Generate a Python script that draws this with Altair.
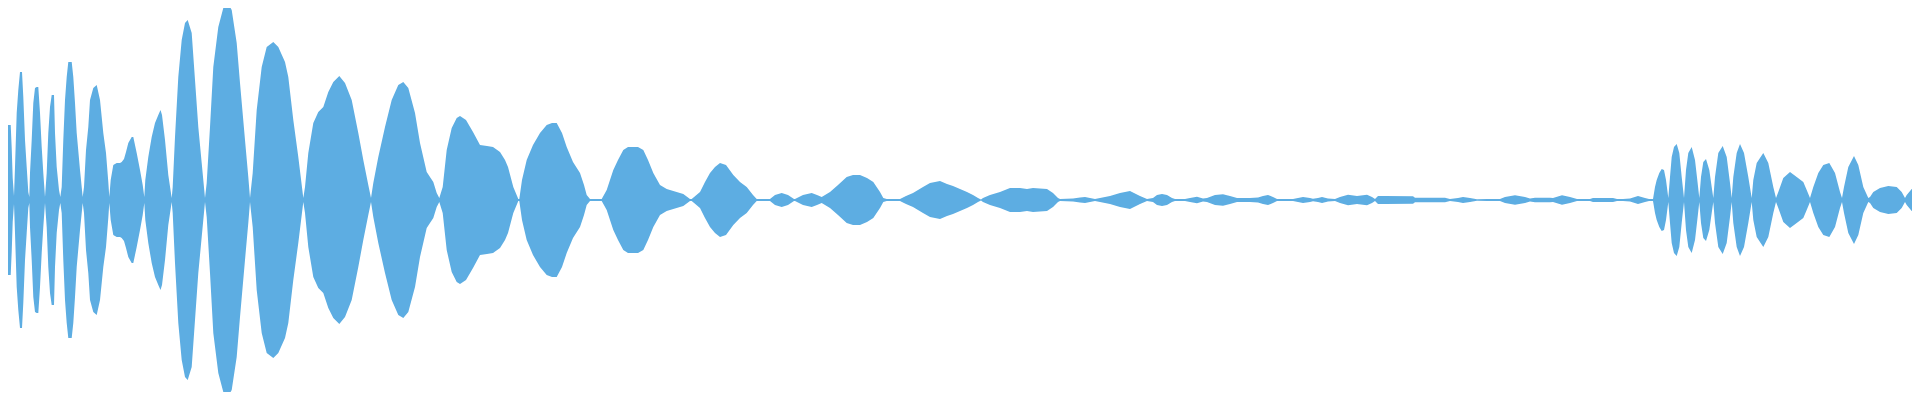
import altair as alt
import pandas as pd

# Waveform envelope: (time position, half amplitude)
burst_1 = [
    (0, 17), (2, 11), (3, 10), (4, 25), (5, 43), (6, 60), (7.3, 75), (10.7, 75), (11.7, 52), (12.7, 22), (14, 4),
    (15, 33), (16.7, 87), (18.3, 110), (20, 128), (22, 128), (23.3, 103), (25, 60), (26.7, 33), (28.3, 8), (29.3, 3),
    (30, 27), (31.7, 60), (33.3, 97), (35, 112), (36.7, 113), (38.3, 113), (40, 87), (41.7, 53), (43.3, 27), (45, 3),
    (46.7, 27), (48.3, 67), (50, 93), (51.7, 105), (54, 105), (55, 67), (56.7, 33), (59, 10), (60.3, 3),
    (61.7, 13), (63.3, 60), (65, 100), (66.7, 123), (68.3, 138), (71.7, 138), (73.3, 123), (75, 97), (76.7, 67), (80, 30), (82.7, 3),
    (84, 13), (86, 50), (88.3, 73), (90, 100), (93.3, 112), (96.7, 115), (100, 100), (103.3, 67), (106, 47), (108.3, 18), (109.3, 3),
    (110.7, 20), (113.3, 35), (116.7, 37), (120, 37), (121.7, 38), (124, 41), (126, 48), (128.3, 57), (131.7, 63), (133.3, 63),
    (136.7, 47), (140, 30), (142.7, 15), (144.3, 3),
    (145.3, 20), (148.3, 43), (151.7, 63), (155, 77), (158.3, 85), (160.5, 90), (162, 85), (165, 60), (168.3, 25), (171.7, 2),
]

burst_2 = [
    (172.7, 13), (175, 63), (178.3, 123), (181.7, 160), (185, 177), (187.7, 180), (191.7, 167), (195, 120), (198.3, 73), (201.7, 37), (205, 2),
    (206.7, 17), (210, 73), (213.3, 133), (218.3, 173), (223.3, 192), (228.3, 196), (231.7, 190), (236.7, 157), (240, 117), (245, 60), (248.3, 23), (250, 2),
    (252.7, 27), (256.7, 90), (261.7, 133), (266.7, 153), (273.3, 158), (278.3, 153), (285, 138), (288.3, 123), (293.3, 80), (298.3, 43), (303.3, 2),
    (305, 13), (308.3, 47), (313.3, 77), (318.3, 88), (323.3, 93), (328.3, 108), (333.3, 118), (339.3, 124), (345, 117), (351.7, 100),
    (358.3, 67), (363.3, 40), (368.3, 15), (371, 2),
    (373.3, 17), (378.3, 43), (385, 73), (391.7, 100), (398.3, 115), (403.3, 118), (408.3, 112), (415, 87), (420, 57), (426.7, 28),
    (433.3, 18), (436.7, 7), (439.3, 2),
    (442.7, 13), (446.7, 50), (451.7, 72), (456.7, 82), (460, 84), (466, 80), (473, 68), (480, 55), (487, 54), (493, 53),
    (500, 48), (505, 40), (508, 33), (513.3, 13), (518.3, 1),
]

decay = [
    (519.3, 1), (522, 20), (526.7, 40), (533, 55), (540, 67), (546.7, 75), (552, 77), (556.7, 77), (562, 67), (566.7, 53),
    (573, 38), (580, 27), (584, 15), (586.7, 5), (590, 1), (600, 1),
    (601.7, 1), (606.7, 10), (613.3, 30), (618, 40), (623.3, 50), (628, 53), (633.3, 53), (638, 53), (643.3, 50), (648, 40),
    (653.3, 27), (660, 15), (666.7, 11), (673.3, 9), (683.3, 6), (690, 1),
    (691.7, 1), (700, 8), (705, 18), (710, 27), (715, 33), (720, 37), (726, 35), (733.3, 25), (740, 18), (746.7, 13), (753, 5), (756.7, 1),
    (770, 1), (775, 5), (781.7, 7), (788, 5), (794, 1),
    (795, 1), (803, 5), (811.7, 7), (817, 5), (821.7, 3), (830, 8), (838, 15), (846.7, 23), (853, 25), (860, 25), (867, 22),
    (873.3, 18), (880, 8), (883.3, 2), (886.7, 1), (900, 1),
    (906, 4), (913, 7), (923, 13), (930, 17), (940, 19), (947, 16), (953, 14), (960, 11), (967, 8), (973, 5), (978, 2), (981, 0.5),
]

quiet = [
    (983, 2), (990, 5), (1000, 8), (1010, 12), (1020, 12), (1027, 11), (1033, 12), (1047, 11), (1053, 7), (1058, 2),
    (1060, 1), (1073, 1.5), (1080, 2.5), (1085, 3), (1090, 2), (1095, 1), (1100, 2), (1110, 4), (1120, 7), (1130, 9),
    (1140, 4), (1147, 1), (1153, 2), (1157, 5), (1162, 6), (1167, 5), (1172, 2), (1175, 1), (1185, 1), (1190, 2),
    (1197, 3.3), (1203, 1.5), (1207, 2), (1215, 5), (1223, 5.7), (1230, 4), (1237, 2), (1250, 2), (1258, 2.5), (1263, 4),
    (1268, 5), (1273, 3), (1277, 1), (1293, 1), (1298, 2), (1303, 3), (1310, 2), (1313, 1.3), (1318, 2), (1322, 3),
    (1328, 1.5), (1335, 1), (1340, 3), (1348, 5.3), (1357, 4), (1367, 5.3), (1372, 3), (1375, 1), (1378, 4), (1385, 4),
    (1413, 3.7), (1415, 2.3), (1445, 2.3), (1450, 1), (1458, 2), (1463, 3), (1470, 2), (1477, 0.8), (1487, 1), (1500, 1),
    (1505, 3), (1515, 4.7), (1525, 3), (1530, 1.5), (1535, 2.3), (1550, 2.3), (1553, 2), (1562, 4.7), (1570, 3), (1577, 1),
    (1590, 1), (1593, 2), (1613, 2), (1617, 1), (1623, 1), (1630, 1.5), (1638, 4), (1645, 2), (1649, 1), (1653, 1),
]

burst_3 = [
    (1655, 13), (1656.7, 20), (1659.3, 27), (1661.7, 31), (1664, 30), (1666, 20), (1668.3, 2),
    (1670, 23), (1671.7, 43), (1674, 53), (1676.7, 56), (1679.3, 47), (1681.7, 23), (1684, 2),
    (1686, 30), (1688.3, 47), (1691.7, 53), (1695, 40), (1697.3, 20), (1699.3, 2),
    (1701, 23), (1703.3, 38), (1706, 41), (1709.3, 30), (1711.7, 13), (1713.3, 2),
    (1715, 23), (1718.3, 47), (1722.7, 54), (1726.7, 43), (1730, 17), (1731.7, 2),
    (1733.3, 23), (1736.7, 47), (1740, 56), (1744, 47), (1748.3, 23), (1751.7, 2),
    (1753.3, 20), (1756.7, 37), (1763.3, 47), (1768.3, 37), (1773.3, 13), (1776, 2),
    (1778.3, 8), (1783.3, 22), (1790, 28), (1796.7, 23), (1803.3, 18), (1806.7, 10), (1810, 2),
    (1813.3, 13), (1818.3, 27), (1823.3, 35), (1829.3, 37), (1835, 27), (1840, 8), (1842, 2),
    (1844, 13), (1848.3, 33), (1854, 44), (1858.3, 35), (1863.3, 13), (1868.3, 2),
    (1870, 3), (1873.3, 8), (1880, 12), (1888.3, 14), (1896.7, 13), (1901.7, 8), (1905, 2),
    (1906.7, 5), (1911.7, 11), (1916.7, 12), (1920, 12),
]

points = burst_1 + burst_2 + decay + quiet + burst_3
df = pd.DataFrame(points, columns=["t", "amp"])
df["neg"] = -df["amp"]

chart = (
    alt.Chart(df)
    .mark_area(color="#5DADE2", interpolate="linear", clip=True, opacity=1)
    .encode(
        x=alt.X("t:Q", scale=alt.Scale(domain=[8, 1912], nice=False, zero=False), axis=None),
        y=alt.Y("amp:Q", scale=alt.Scale(domain=[-192, 192], nice=False, zero=False), axis=None),
        y2="neg:Q",
    )
    .properties(width=1904, height=384, padding=0, autosize=alt.AutoSizeParams(type="none"))
    .configure_view(stroke=None)
)

chart.save("out.html", embed_options={"renderer": "svg", "actions": False})
